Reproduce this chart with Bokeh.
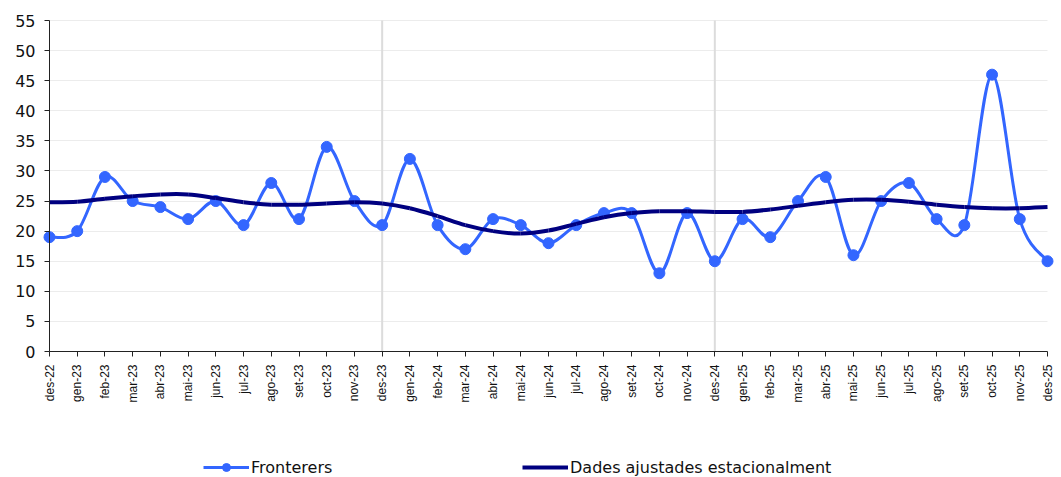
import math
from bokeh.plotting import figure
from bokeh.models import FixedTicker, Legend, LegendItem, ColumnDataSource
from bokeh.embed import file_html
from bokeh.resources import INLINE

months = ["des-22", "gen-23", "feb-23", "mar-23", "abr-23", "mai-23", "jun-23",
          "jul-23", "ago-23", "set-23", "oct-23", "nov-23", "des-23", "gen-24",
          "feb-24", "mar-24", "abr-24", "mai-24", "jun-24", "jul-24", "ago-24",
          "set-24", "oct-24", "nov-24", "des-24", "gen-25", "feb-25", "mar-25",
          "abr-25", "mai-25", "jun-25", "jul-25", "ago-25", "set-25", "oct-25",
          "nov-25", "des-25"]

fronterers = [19, 20, 29, 25, 24, 22, 25, 21, 28, 22, 34, 25, 21, 32, 21, 17, 22,
              21, 18, 21, 23, 23, 13, 23, 15, 22, 19, 25, 29, 16, 25, 28, 22, 21,
              46, 22, 15]

ajustades = [24.8, 24.9, 25.4, 25.8, 26.1, 26.1, 25.5, 24.8, 24.4, 24.4, 24.6,
             24.8, 24.6, 23.8, 22.5, 21.0, 20.0, 19.6, 20.1, 21.2, 22.3, 23.0,
             23.3, 23.3, 23.2, 23.2, 23.6, 24.2, 24.8, 25.2, 25.2, 24.9, 24.4,
             24.0, 23.8, 23.8, 24.0]

series_names = ["Fronterers", "Dades ajustades estacionalment"]
vlines = ["des-23", "des-24"]
y_ticks = list(range(0, 56, 5))

xs = list(range(len(months)))
N = len(months) - 1
Y_MAX = 55

# page layout (pixels) of the plotting area inside the 1061x477 canvas
W, H = 1061, 477
PX_L, PX_R, PX_T, PX_B = 49, 1047, 20, 351
ux = (PX_R - PX_L) / N
uy = (PX_B - PX_T) / Y_MAX
x_start = -PX_L / ux
x_end = N + (W - PX_R) / ux
y_end = Y_MAX + PX_T / uy
y_start = -(H - PX_B) / uy


def smooth_source(ys):
    n = len(ys)
    d = dict(x0=[], y0=[], x1=[], y1=[], cx0=[], cy0=[], cx1=[], cy1=[])
    for i in range(n - 1):
        a = i - 1 if i > 0 else i
        b = i + 2 if i + 2 < n else i + 1
        d["x0"].append(xs[i]); d["y0"].append(ys[i])
        d["x1"].append(xs[i + 1]); d["y1"].append(ys[i + 1])
        d["cx0"].append(xs[i] + (xs[i + 1] - xs[a]) / 6.0)
        d["cy0"].append(ys[i] + (ys[i + 1] - ys[a]) / 6.0)
        d["cx1"].append(xs[i + 1] - (xs[b] - xs[i]) / 6.0)
        d["cy1"].append(ys[i + 1] - (ys[b] - ys[i]) / 6.0)
    return ColumnDataSource(d)


p = figure(width=W, height=H, x_range=(x_start, x_end), y_range=(y_start, y_end),
           output_backend="svg", toolbar_location=None, title=None,
           min_border_left=0, min_border_right=0, min_border_top=0,
           min_border_bottom=0)
p.outline_line_color = None

BLUE = "#3366ff"
NAVY = "#000080"

# vertical separators at December
vx = [months.index(m) for m in vlines]
p.segment(x0=vx, y0=[0] * len(vx), x1=vx, y1=[Y_MAX] * len(vx),
          line_color="#dcdcdc", line_width=2)

src_f = smooth_source(fronterers)
p.bezier(x0="x0", y0="y0", x1="x1", y1="y1", cx0="cx0", cy0="cy0",
         cx1="cx1", cy1="cy1", source=src_f, line_color=BLUE, line_width=3)
p.scatter(xs, fronterers, size=11, fill_color=BLUE, line_color=BLUE)

src_a = smooth_source(ajustades)
p.bezier(x0="x0", y0="y0", x1="x1", y1="y1", cx0="cx0", cy0="cy0",
         cx1="cx1", cy1="cy1", source=src_a, line_color=NAVY, line_width=4)

# axes
p.xaxis.fixed_location = 0
p.xaxis.ticker = FixedTicker(ticks=xs)
p.xaxis.bounds = (0, N)
p.xaxis.major_label_overrides = {i: m for i, m in enumerate(months)}
p.xaxis.major_label_orientation = math.pi / 2
p.xaxis.major_label_text_font = "Liberation Sans"
p.xaxis.major_label_text_font_size = "12px"
p.xaxis.major_label_text_color = "#111111"
p.xaxis.major_label_standoff = 8
p.xaxis.major_tick_out = 5
p.xaxis.major_tick_in = 0
p.xaxis.minor_tick_line_color = None
p.xaxis.axis_line_color = "#222222"
p.xaxis.major_tick_line_color = "#222222"

p.yaxis.fixed_location = 0
p.yaxis.ticker = FixedTicker(ticks=y_ticks)
p.yaxis.bounds = (0, Y_MAX)
p.yaxis.major_label_text_font = "DejaVu Sans"
p.yaxis.major_label_text_font_size = "16px"
p.yaxis.major_label_text_color = "#111111"
p.yaxis.major_label_standoff = 9
p.yaxis.major_tick_out = 5
p.yaxis.major_tick_in = 0
p.yaxis.minor_tick_line_color = None
p.yaxis.axis_line_color = "#222222"
p.yaxis.major_tick_line_color = "#222222"

p.xgrid.visible = False
p.ygrid.ticker = FixedTicker(ticks=y_ticks[1:])
p.ygrid.grid_line_color = "#ececec"
p.ygrid.grid_line_width = 1
grid = p.ygrid[0]
if "cross_bounds" in grid.properties():
    grid.cross_bounds = (0, N)

# legend (renderers for the legend samples sit outside the visible range)
l1 = p.line([-50, -49], [-50, -49], line_color=BLUE, line_width=3)
l2 = p.scatter([-50], [-50], size=11, fill_color=BLUE, line_color=BLUE)
l3 = p.line([-50, -49], [-50, -49], line_color=NAVY, line_width=4)


def make_legend(label, renderers, x):
    lg = Legend(items=[LegendItem(label=label, renderers=renderers)],
                location=(x, 0), orientation="horizontal",
                padding=0, margin=0, border_line_color=None,
                background_fill_alpha=0, glyph_width=46, glyph_height=20,
                label_standoff=2, label_text_font="DejaVu Sans",
                label_text_font_size="16px", label_text_color="#111111",
                label_height=20)
    p.add_layout(lg)


make_legend(series_names[0], [l1, l2], 203)
make_legend(series_names[1], [l3], 522)

open("out.html", "w").write(file_html(p, INLINE))
